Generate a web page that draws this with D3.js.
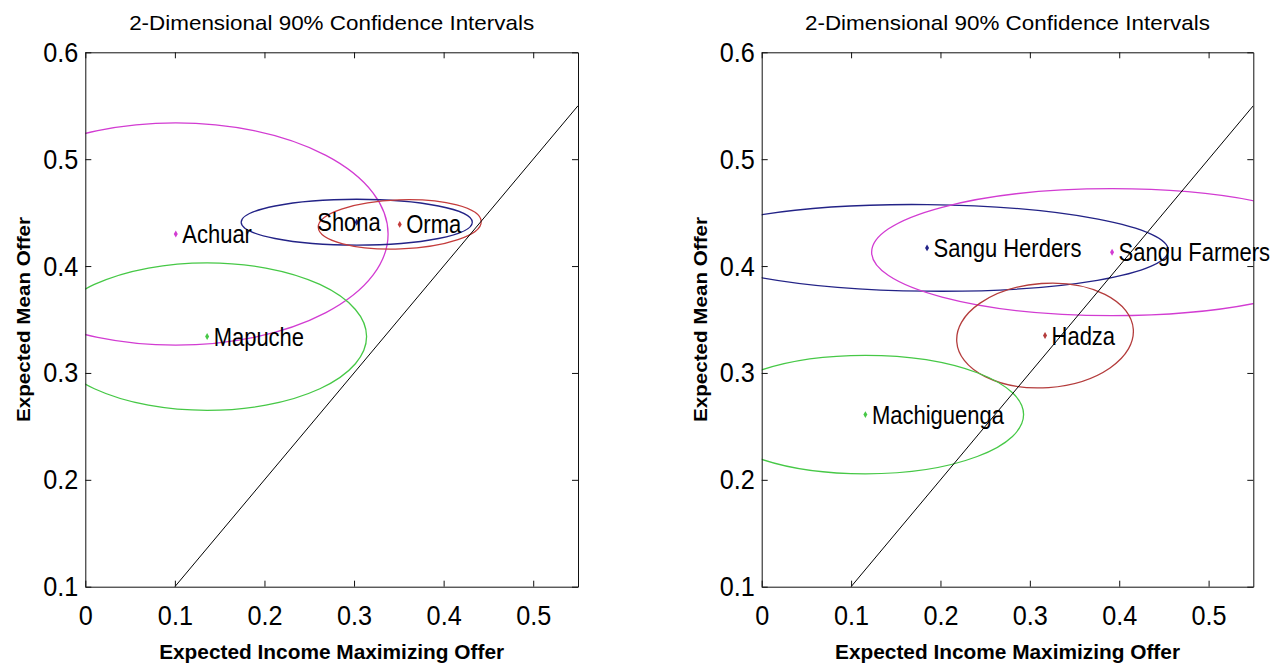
<!DOCTYPE html>
<html>
<head>
<meta charset="utf-8">
<script src="https://cdn.jsdelivr.net/npm/d3@7"></script>
<style>
    body { margin: 0; background: #fff; }
    svg text { font-family: "Liberation Sans", Arial, Helvetica, sans-serif; fill: #000; }
</style>
</head>
<body>
<svg id="chart" width="1281" height="667"></svg>
<script>
const TITLE = "2-Dimensional 90% Confidence Intervals";
const X_LABEL = "Expected Income Maximizing Offer";
const Y_LABEL = "Expected Mean Offer";
const X_DOMAIN = [0, 0.55];
const Y_DOMAIN = [0.1, 0.6];
const X_TICKS = [0, 0.1, 0.2, 0.3, 0.4, 0.5];
const Y_TICKS = [0.1, 0.2, 0.3, 0.4, 0.5, 0.6];
const DIAGONAL = [0.1, 0.55];

// left panel
const leftNames = ["Achuar", "Mapuche", "Shona", "Orma"];
const leftIncomeMax = [0.101, 0.136, 0.303, 0.351];
const leftMeanOffer = [0.430, 0.334, 0.441, 0.439];
const leftSpreadX = [0.237, 0.178, 0.129, 0.091];
const leftSpreadY = [0.104, 0.069, 0.0215, 0.023];
const leftTilt = [0, 0, 0, -2];

// right panel
const rightNames = ["Sangu Herders", "Sangu Farmers", "Hadza", "Machiguenga"];
const rightIncomeMax = [0.185, 0.392, 0.317, 0.116];
const rightMeanOffer = [0.417, 0.413, 0.335, 0.261];
const rightSpreadX = [0.270, 0.269, 0.099, 0.177];
const rightSpreadY = [0.0405, 0.0594, 0.0488, 0.0554];
const rightTilt = [0.6, 0, -4, 0];

const COLORS = {
    "Achuar": "#d23cd2",
    "Sangu Farmers": "#d23cd2",
    "Mapuche": "#46c846",
    "Machiguenga": "#46c846",
    "Shona": "#232387",
    "Sangu Herders": "#232387",
    "Orma": "#c43c3c",
    "Hadza": "#b43c3c"
};
// Shona's label sits over its own marker
const LABEL_SHIFT = { "Shona": -46 };

const svg = d3.select("#chart");
svg.append("rect").attr("width", 1281).attr("height", 667).attr("fill", "#fff");

function squeeze(sel, f) {
    sel.each(function () {
        const w = this.getComputedTextLength();
        d3.select(this).attr("textLength", w * f).attr("lengthAdjust", "spacingAndGlyphs");
    });
}

function buildGroups(names, xs, ys, sx, sy, tilt) {
    return names.map((n, i) => ({ name: n, mx: xs[i], my: ys[i], rx: sx[i], ry: sy[i], tilt: tilt[i] }));
}

function renderPanel(id, left, right, groups) {
    const top = 52.3, bottom = 586.7;
    const x = d3.scaleLinear().domain(X_DOMAIN).range([left, right]);
    const y = d3.scaleLinear().domain(Y_DOMAIN).range([bottom, top]);
    const g = svg.append("g");

    g.append("clipPath").attr("id", "clip-" + id)
        .append("rect")
        .attr("x", left).attr("y", top)
        .attr("width", right - left).attr("height", bottom - top);

    const plot = g.append("g").attr("clip-path", "url(#clip-" + id + ")");

    plot.selectAll("ellipse")
        .data(groups)
        .join("ellipse")
        .attr("cx", d => x(d.mx))
        .attr("cy", d => y(d.my))
        .attr("rx", d => x(d.mx + d.rx) - x(d.mx))
        .attr("ry", d => y(d.my - d.ry) - y(d.my))
        .attr("transform", d => `rotate(${d.tilt},${x(d.mx)},${y(d.my)})`)
        .attr("fill", "none")
        .attr("stroke", d => COLORS[d.name])
        .attr("stroke-width", 1.3);

    plot.append("path")
        .datum(DIAGONAL)
        .attr("fill", "none")
        .attr("stroke", "#000")
        .attr("stroke-width", 1)
        .attr("d", d3.line().x(d => x(d)).y(d => y(d)));

    // axes, ticks pointing inward like matlab
    const fmt = d => String(d);
    g.append("g")
        .attr("transform", `translate(0,${bottom})`)
        .call(d3.axisBottom(x).tickValues(X_TICKS).tickSizeInner(-6).tickSizeOuter(0).tickPadding(18).tickFormat(fmt));
    g.append("g")
        .attr("transform", `translate(0,${top})`)
        .call(d3.axisTop(x).tickValues(X_TICKS).tickSizeInner(-6).tickSizeOuter(0).tickFormat(""));
    g.append("g")
        .attr("transform", `translate(${left},0)`)
        .call(d3.axisLeft(y).tickValues(Y_TICKS).tickSizeInner(-6).tickSizeOuter(0).tickPadding(7).tickFormat(fmt));
    g.append("g")
        .attr("transform", `translate(${right},0)`)
        .call(d3.axisRight(y).tickValues(Y_TICKS).tickSizeInner(-6).tickSizeOuter(0).tickFormat(""));

    g.selectAll(".domain, .tick line").attr("stroke", "#111");
    g.selectAll("g").attr("font-family", null).attr("font-size", null);
    g.selectAll(".tick text").attr("font-size", 28);
    squeeze(g.selectAll(".tick text").filter(function () { return this.textContent !== ""; }), 0.9);

    // markers + labels
    g.selectAll(".marker")
        .data(groups)
        .join("path")
        .attr("class", "marker")
        .attr("transform", d => `translate(${x(d.mx)},${y(d.my)})`)
        .attr("d", d3.symbol(d3.symbolDiamond, 14))
        .attr("fill", d => COLORS[d.name]);

    g.selectAll(".label")
        .data(groups)
        .join("text")
        .attr("class", "label")
        .attr("transform", d => `translate(${x(d.mx) + 6.5 + (LABEL_SHIFT[d.name] || 0)},${y(d.my) + 9}) scale(0.88,1)`)
        .attr("font-size", 25)
        .text(d => d.name);

    const mid = (left + right) / 2;
    g.append("text")
        .attr("x", mid).attr("y", 30)
        .attr("text-anchor", "middle")
        .attr("font-size", 21)
        .attr("textLength", 405).attr("lengthAdjust", "spacingAndGlyphs")
        .text(TITLE);

    g.append("text")
        .attr("x", mid).attr("y", 659)
        .attr("text-anchor", "middle")
        .attr("font-size", 21)
        .attr("font-weight", "bold")
        .attr("textLength", 345).attr("lengthAdjust", "spacingAndGlyphs")
        .text(X_LABEL);

    g.append("text")
        .attr("transform", `translate(${left - 55},${(top + bottom) / 2}) rotate(-90)`)
        .attr("text-anchor", "middle")
        .attr("font-size", 18)
        .attr("font-weight", "bold")
        .attr("textLength", 205).attr("lengthAdjust", "spacingAndGlyphs")
        .text(Y_LABEL);
}

renderPanel("a", 85.3, 578, buildGroups(leftNames, leftIncomeMax, leftMeanOffer, leftSpreadX, leftSpreadY, leftTilt));
renderPanel("b", 761.7, 1253.3, buildGroups(rightNames, rightIncomeMax, rightMeanOffer, rightSpreadX, rightSpreadY, rightTilt));
</script>
</body>
</html>
